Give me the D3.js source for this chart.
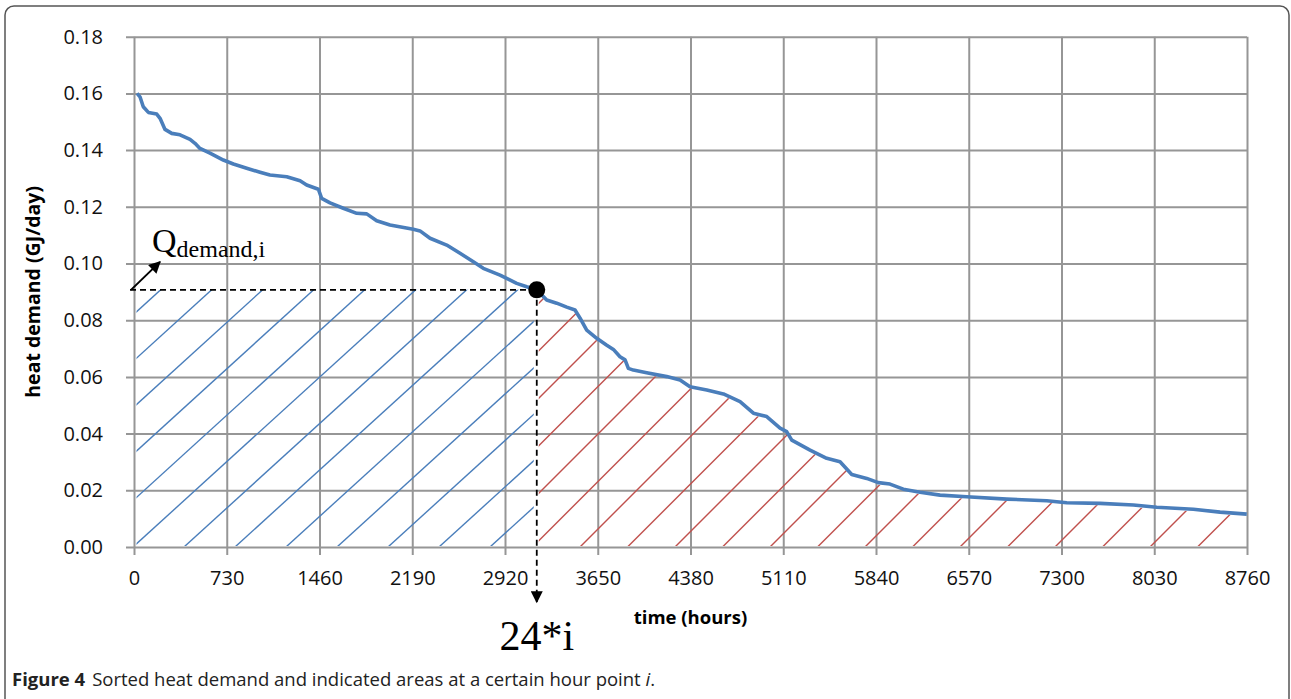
<!DOCTYPE html>
<html>
<head>
<meta charset="utf-8">
<script src="https://cdn.jsdelivr.net/npm/d3@7"></script>
<style>
body { margin: 0; background: #fff; }
svg { display: block; }
.tick text { font-family: "Open Sans", sans-serif; font-size: 20px; fill: #111; }
</style>
</head>
<body>
<div id="chart"></div>
<script>
// sorted heat demand curve
var hours = [24, 47, 73, 113, 179, 205, 244, 297, 362, 441, 480, 519, 598, 703, 782, 887, 992, 1070, 1202, 1307,
  1359, 1451, 1477, 1543, 1647, 1753, 1832, 1910, 2015, 2198, 2251, 2330, 2461, 2566, 2671, 2749, 2881, 3012, 3091, 3170,
  3248, 3327, 3406, 3471, 3511, 3563, 3642, 3721, 3773, 3825, 3865, 3891, 3930, 4035, 4193, 4298, 4376, 4508, 4639, 4770,
  4875, 4980, 5085, 5137, 5177, 5321, 5452, 5557, 5649, 5767, 5858, 5950, 6055, 6187, 6344, 6554, 6869, 7184, 7341, 7604,
  7866, 8050, 8338, 8548, 8758];
var demand = [0.1600, 0.1588, 0.1553, 0.1533, 0.1527, 0.1512, 0.1473, 0.1459, 0.1454, 0.1438, 0.1424, 0.1406, 0.1389, 0.1365, 0.1351, 0.1336, 0.1322, 0.1312, 0.1306, 0.1292,
  0.1277, 0.1262, 0.1230, 0.1214, 0.1195, 0.1177, 0.1175, 0.1151, 0.1136, 0.1121, 0.1115, 0.1089, 0.1065, 0.1036, 0.1006, 0.0983, 0.0959, 0.0930, 0.0918, 0.0907,
  0.0871, 0.0860, 0.0846, 0.0836, 0.0807, 0.0765, 0.0736, 0.0712, 0.0697, 0.0671, 0.0660, 0.0630, 0.0624, 0.0615, 0.0601, 0.0589, 0.0565, 0.0554, 0.0540, 0.0513,
  0.0472, 0.0460, 0.0419, 0.0407, 0.0377, 0.0342, 0.0313, 0.0301, 0.0256, 0.0242, 0.0227, 0.0222, 0.0204, 0.0193, 0.0183, 0.0177, 0.0169, 0.0163, 0.0156, 0.0154,
  0.0148, 0.0140, 0.0133, 0.0123, 0.0116];

// the marked hour point i
var markHour = 3170;
var markQ = 0.0907;

var xTicks = [0, 730, 1460, 2190, 2920, 3650, 4380, 5110, 5840, 6570, 7300, 8030, 8760];
var yTicks = [0, 0.02, 0.04, 0.06, 0.08, 0.10, 0.12, 0.14, 0.16, 0.18];

var data = hours.map(function(h, i) { return {h: h, q: demand[i]}; });

var W = 1291, H = 699;
var margin = {top: 36.7, right: 44, bottom: 152, left: 134};
var width = W - margin.left - margin.right,
    height = H - margin.top - margin.bottom;

var x = d3.scaleLinear().domain([0, 8760]).range([0, width]);
var y = d3.scaleLinear().domain([0, 0.18]).range([height, 0]);

var svg = d3.select("#chart").append("svg")
  .attr("width", W)
  .attr("height", H);

// figure frame
svg.append("rect")
  .attr("x", 5).attr("y", 6)
  .attr("width", 1284).attr("height", 740)
  .attr("rx", 9)
  .attr("fill", "none")
  .attr("stroke", "#555")
  .attr("stroke-width", 1.5);

var defs = svg.append("defs");
defs.append("marker")
  .attr("id", "head")
  .attr("viewBox", "0 0 10 10")
  .attr("refX", 9).attr("refY", 5)
  .attr("markerWidth", 15).attr("markerHeight", 12)
  .attr("markerUnits", "userSpaceOnUse")
  .attr("orient", "auto")
  .append("path")
  .attr("d", "M0,0L10,5L0,10z")
  .attr("fill", "#000");

var g = svg.append("g")
  .attr("transform", "translate(" + margin.left + "," + margin.top + ")");

// gridlines + axes
var yAxis = d3.axisLeft(y).tickValues(yTicks).tickSize(-width).tickSizeOuter(0)
  .tickPadding(31).tickFormat(d3.format(".2f"));
var xAxis = d3.axisBottom(x).tickValues(xTicks).tickSize(-height).tickSizeOuter(0)
  .tickPadding(24).tickFormat(d3.format("d"));

var gy = g.append("g").attr("class", "y axis").call(yAxis);
gy.selectAll(".tick line").attr("x1", -8);
var gx = g.append("g").attr("class", "x axis")
  .attr("transform", "translate(0," + height + ")").call(xAxis);
gx.selectAll(".tick line").attr("y1", 8);
g.selectAll(".axis .domain").remove();
g.selectAll(".axis .tick line").attr("stroke", "#969696").attr("stroke-width", 2);

// axis titles
g.append("text")
  .attr("transform", "translate(" + (-94) + "," + (height / 2) + ") rotate(-90)")
  .attr("text-anchor", "middle")
  .style("font-family", "'Open Sans', sans-serif")
  .style("font-size", "19.5px")
  .style("font-weight", "bold")
  .text("heat demand (GJ/day)");

g.append("text")
  .attr("x", width / 2).attr("y", height + 77)
  .attr("text-anchor", "middle")
  .style("font-family", "'Open Sans', sans-serif")
  .style("font-size", "18.5px")
  .style("font-weight", "bold")
  .text("time (hours)");

// hatch areas
var xm = x(markHour), ym = y(markQ), y0 = y(0);

defs.append("clipPath").attr("id", "clipBlue")
  .append("rect")
  .attr("x", x(0) + 2.5).attr("y", ym)
  .attr("width", xm - 3 - (x(0) + 2.5))
  .attr("height", y0 - 1 - ym);

var after = data.filter(function(d) { return d.h >= markHour; });
var area = d3.area()
  .x(function(d) { return x(d.h); })
  .y0(y0 - 1)
  .y1(function(d) { return y(d.q) + 2; });
defs.append("clipPath").attr("id", "clipRedArea")
  .append("path").attr("d", area(after));
defs.append("clipPath").attr("id", "clipRedRect")
  .append("rect")
  .attr("x", xm + 2).attr("y", 0)
  .attr("width", x(8760) - 11 - (xm + 2)).attr("height", height);

function hatch(sel, start, step, slope, n, color) {
  sel.selectAll("line")
    .data(d3.range(n))
    .join("line")
    .attr("x1", function(k) { return start + k * step; })
    .attr("y1", y0)
    .attr("x2", function(k) { return start + k * step + 700; })
    .attr("y2", y0 - 700 * slope)
    .attr("stroke", color)
    .attr("stroke-width", 1.4);
}

var blue = g.append("g").attr("clip-path", "url(#clipBlue)");
hatch(blue, x(0) - 1 - 51 * 10, 51, 0.91, 20, "#4a7ebb");

var red = g.append("g").attr("clip-path", "url(#clipRedRect)")
  .append("g").attr("clip-path", "url(#clipRedArea)");
hatch(red, 446 - 47.5 * 6, 47.5, 1.0, 25, "#c0504d");

// demand curve
var valueline = d3.line()
  .x(function(d) { return x(d.h); })
  .y(function(d) { return y(d.q); });

g.append("path")
  .datum(data)
  .attr("d", valueline)
  .attr("fill", "none")
  .attr("stroke", "#4a7ebb")
  .attr("stroke-width", 3.6)
  .attr("stroke-linejoin", "round");

// dashed guide lines
g.append("line")
  .attr("x1", x(0) - 4).attr("y1", ym)
  .attr("x2", xm).attr("y2", ym)
  .attr("stroke", "#000").attr("stroke-width", 1.8)
  .attr("stroke-dasharray", "6,4");

g.append("line")
  .attr("x1", xm).attr("y1", ym)
  .attr("x2", xm).attr("y2", y0 + 55)
  .attr("stroke", "#000").attr("stroke-width", 1.8)
  .attr("stroke-dasharray", "6,4")
  .attr("marker-end", "url(#head)");

g.append("line")
  .attr("x1", x(0) - 3).attr("y1", ym)
  .attr("x2", x(0) + 26).attr("y2", ym - 28)
  .attr("stroke", "#000").attr("stroke-width", 2)
  .attr("marker-end", "url(#head)");

g.append("circle")
  .attr("cx", xm).attr("cy", ym)
  .attr("r", 8.5)
  .attr("fill", "#000");

// annotation labels
var qLab = g.append("text")
  .attr("x", x(0) + 18).attr("y", ym - 38)
  .style("font-family", "'Liberation Serif', 'Times New Roman', serif")
  .style("font-size", "34px");
qLab.append("tspan").text("Q");
qLab.append("tspan")
  .attr("dy", 5)
  .style("font-size", "24px")
  .text("demand,i");

g.append("text")
  .attr("x", xm).attr("y", y0 + 103)
  .attr("text-anchor", "middle")
  .style("font-family", "'Liberation Serif', 'Times New Roman', serif")
  .style("font-size", "42px")
  .text("24*i");

// caption
var cap = svg.append("text")
  .attr("x", 12).attr("y", 686)
  .style("font-family", "'Open Sans', sans-serif")
  .style("font-size", "18.5px")
  .attr("fill", "#222");
cap.append("tspan").style("font-weight", "bold").text("Figure 4");
cap.append("tspan").attr("dx", 7).text("Sorted heat demand and indicated areas at a certain hour point ");
cap.append("tspan").style("font-style", "italic").text("i");
cap.append("tspan").text(".");
</script>
</body>
</html>
